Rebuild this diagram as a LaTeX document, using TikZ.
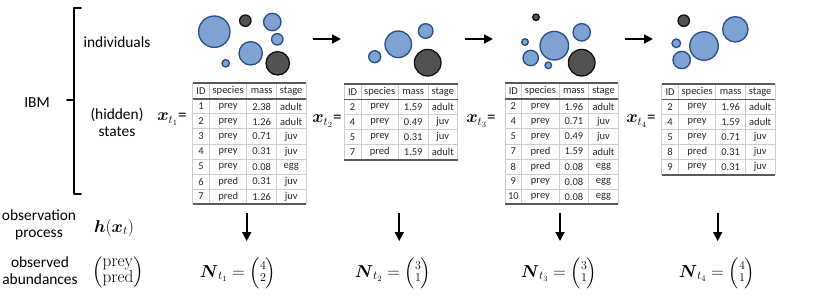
\documentclass[tikz,border=0pt]{standalone}
\usepackage{amsmath}
\usepackage[no-math]{fontspec}
\setmainfont{Carlito}
\usetikzlibrary{arrows.meta}
\definecolor{cfill}{RGB}{126,162,209}
\definecolor{cedge}{RGB}{38,78,136}
\definecolor{dfill}{RGB}{82,82,82}
\definecolor{dedge}{RGB}{15,15,15}
\definecolor{rulein}{RGB}{205,205,205}
\definecolor{ruleout}{RGB}{90,90,90}
\tikzset{
 lbl/.style={font=\fontsize{15.4}{17}\selectfont, align=center, inner sep=0pt},
 cell/.style={font=\fontsize{10.5}{12}\selectfont, inner sep=0pt, anchor=center, text=black!85},
 preyc/.style={fill=cfill, draw=cedge, line width=1.3pt},
 predc/.style={fill=dfill, draw=dedge, line width=1.3pt},
 flow/.style={line width=1.8pt, -{Triangle[length=9pt,width=9pt]}},
 inrule/.style={draw=rulein, line width=1pt},
 outrule/.style={draw=ruleout, line width=1.6pt},
 mlbl/.style={font=\fontsize{17}{19}\selectfont, inner sep=0pt},
 brace/.style={line width=1.8pt, line cap=round, line join=round},
}
\newcommand\mktable[5]{%
 \begin{scope}[shift={(#2,#3)}]
  \pgfmathsetmacro\tbh{15.7+15*#4}
  \node[minimum width=113.3pt, minimum height=\tbh pt, anchor=north west, inner sep=0pt] (#1) at (0,0) {};
  \foreach \vx in {0,16.7,54.2,83.7,113.3} {\draw[inrule] (\vx,0) -- (\vx,\tbh);}
  \foreach \hr in {1,...,#4} {\draw[inrule] (0,15.7+15*\hr) -- (113.3,15.7+15*\hr);}
  \draw[draw=ruleout, line width=1.2pt] (0,15.7) -- (113.3,15.7);
  \draw[outrule] (0,0) -- (113.3,0);
  \draw[outrule] (0,\tbh) -- (113.3,\tbh);
  \node[cell] (#1-h-1) at (8.35,7.85) {ID};
  \node[cell] (#1-h-2) at (35.45,7.85) {species};
  \node[cell] (#1-h-3) at (68.95,7.85) {mass};
  \node[cell] (#1-h-4) at (98.5,7.85) {stage};
  \foreach \a/\b/\c/\d [count=\r] in {#5} {
   \node[cell] (#1-\r-1) at (8.35,8.2+15*\r) {\a};
   \node[cell] (#1-\r-2) at (35.45,8.2+15*\r) {\b};
   \node[cell] (#1-\r-3) at (68.95,8.2+15*\r) {\c};
   \node[cell] (#1-\r-4) at (98.5,8.2+15*\r) {\d};
  }
 \end{scope}}
\newcommand\colvec[2]{\left(\renewcommand\arraystretch{0.72}\begin{array}{@{}c@{}}#1\\#2\end{array}\right)}
\newcommand\numvec[2]{\left(\renewcommand\arraystretch{0.62}\begin{array}{@{}c@{}}\scriptstyle #1\\\scriptstyle #2\end{array}\right)}
\begin{document}
\begin{tikzpicture}[x=1pt,y=-1pt]
\useasboundingbox (0,0) rectangle (831,305);
% left labels
\node[lbl] (ibm) at (37,103) {IBM};
\node[lbl] (indiv) at (117,42) {individuals};
\node[lbl] (hidden) at (117,122) {(hidden)\\states};
\node[lbl] (obsproc) at (39,225) {observation\\process};
\node[lbl] (obsab) at (40,271) {observed\\abundances};
% brace
\draw[brace] (81,8) -- (74,8) -- (74,194) -- (81,194);
\draw[brace] (74,100) -- (67,100);
% math labels
\node[mlbl] (hx) at (114,228) {$\boldsymbol{h}(\boldsymbol{x}_t)$};
\node[mlbl] (pp) at (118,272) {$\colvec{\mathrm{prey}}{\mathrm{pred}}$};
% state labels
\node[mlbl] (x1) at (172,119) {$\boldsymbol{x}_{t_1}$=};
\node[mlbl] (x2) at (327,121) {$\boldsymbol{x}_{t_2}$=};
\node[mlbl] (x3) at (481,121) {$\boldsymbol{x}_{t_3}$=};
\node[mlbl] (x4) at (641,121) {$\boldsymbol{x}_{t_4}$=};
% tables
\mktable{T1}{192.7}{83.3}{7}{1/prey/2.38/adult,2/prey/1.26/adult,3/prey/0.71/juv,4/prey/0.31/juv,5/prey/0.08/egg,6/pred/0.31/juv,7/pred/1.26/juv}
\mktable{T2}{344.3}{84}{4}{2/prey/1.59/adult,4/prey/0.49/juv,5/prey/0.31/juv,7/pred/1.59/adult}
\mktable{T3}{505}{83.3}{7}{2/prey/1.96/adult,4/prey/0.71/juv,5/prey/0.49/juv,7/pred/1.59/adult,8/pred/0.08/egg,9/prey/0.08/egg,10/prey/0.08/egg}
\mktable{T4}{661.7}{84}{5}{2/prey/1.96/adult,4/prey/1.59/adult,5/prey/0.71/juv,8/pred/0.31/juv,9/prey/0.31/juv}
% circles step 1
\draw[preyc] (214.3,31.7) circle (15.7);
\draw[predc] (245.3,20.7) circle (5.7);
\draw[preyc] (272.3,22) circle (8.7);
\draw[preyc] (277.3,39.3) circle (5.7);
\draw[preyc] (250.7,53.3) circle (11.7);
\draw[preyc] (225.7,63.3) circle (3.7);
\draw[predc] (277.7,63.3) circle (11.7);
% step 2
\draw[preyc] (374.7,56.7) circle (6);
\draw[preyc] (398.3,44.3) circle (13.3);
\draw[preyc] (425.7,31) circle (7.3);
\draw[predc] (427.7,62.7) circle (13.3);
% step 3
\draw[predc] (536,17.3) circle (3.3);
\draw[preyc] (525,42) circle (3.3);
\draw[preyc] (554.3,45.7) circle (14.3);
\draw[preyc] (581.7,32.3) circle (8.7);
\draw[preyc] (530.7,58) circle (7.7);
\draw[preyc] (548.3,65.3) circle (3.3);
\draw[predc] (581.7,62.7) circle (13.3);
% step 4
\draw[predc] (683.7,20.7) circle (5.7);
\draw[preyc] (676.3,43.3) circle (4.3);
\draw[preyc] (704,46) circle (14.3);
\draw[preyc] (735.3,29.3) circle (12.7);
\draw[preyc] (681.7,60) circle (8.7);
% horizontal arrows
\coordinate (h1s) at (312.7,39); \coordinate (h1e) at (341,39);
\coordinate (h2s) at (465,39);   \coordinate (h2e) at (493,39);
\coordinate (h3s) at (625,39);   \coordinate (h3e) at (653,39);
\draw[flow] (h1s) -- (h1e);
\draw[flow] (h2s) -- (h2e);
\draw[flow] (h3s) -- (h3e);
% N labels
\node[mlbl] (N1) at (238,273) {$\boldsymbol{N}_{t_1} = \numvec{4}{2}$};
\node[mlbl] (N2) at (393,273) {$\boldsymbol{N}_{t_2} = \numvec{3}{1}$};
\node[mlbl] (N3) at (559,273) {$\boldsymbol{N}_{t_3} = \numvec{3}{1}$};
\node[mlbl] (N4) at (717,273) {$\boldsymbol{N}_{t_4} = \numvec{4}{1}$};
% vertical arrows
\coordinate (v1s) at (246.7,213); \coordinate (v1e) at (246.7,241);
\coordinate (v2s) at (399.3,213); \coordinate (v2e) at (399.3,241);
\coordinate (v3s) at (560,213);   \coordinate (v3e) at (560,241);
\coordinate (v4s) at (717.7,213); \coordinate (v4e) at (717.7,241);
\draw[flow] (v1s) -- (v1e);
\draw[flow] (v2s) -- (v2e);
\draw[flow] (v3s) -- (v3e);
\draw[flow] (v4s) -- (v4e);
\end{tikzpicture}
\end{document}
